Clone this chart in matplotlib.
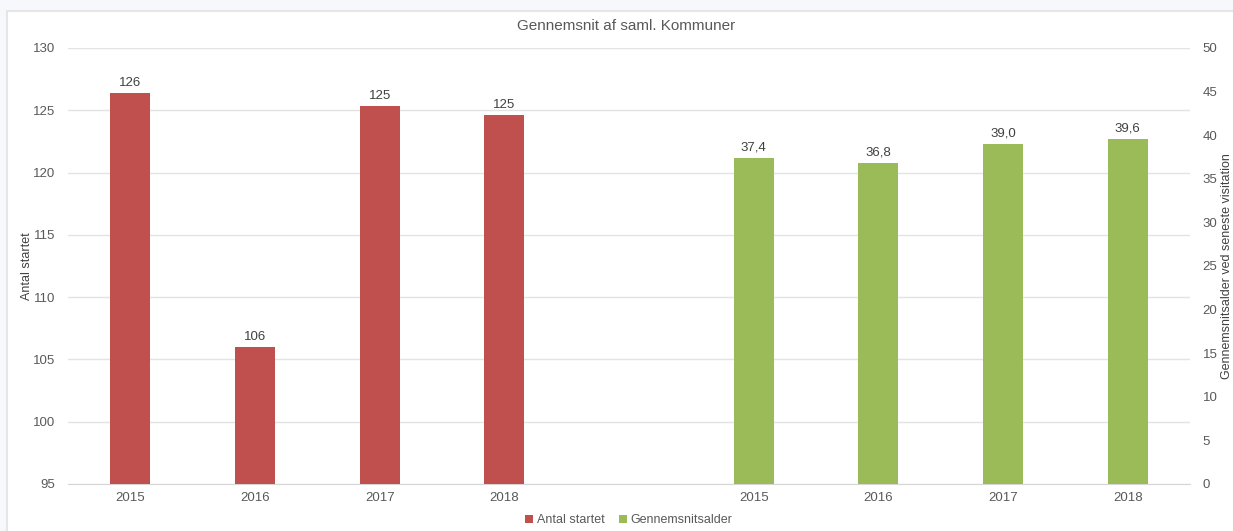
import matplotlib.pyplot as plt
from matplotlib.patches import Rectangle

plt.rcParams['font.family'] = ['Liberation Sans', 'DejaVu Sans']

# data
years = ["2015", "2016", "2017", "2018"]
antal_startet = [126.4, 106.0, 125.35, 124.6]
antal_labels = ["126", "106", "125", "125"]
gns_alder = [37.4, 36.8, 39.0, 39.6]
alder_labels = ["37,4", "36,8", "39,0", "39,6"]

red = "#c0504d"
green = "#9bbb59"
txt = "#595959"
lbl = "#404040"
grid = "#e3e3e3"

fig = plt.figure(figsize=(12.33, 5.31), dpi=100)
fig.patch.set_facecolor("#f6f8fc")
panel = Rectangle((7 / 1233, -0.01), 1.0, 1.01 - 11 / 531, transform=fig.transFigure,
                  facecolor="white", edgecolor="#e4e6ea", linewidth=1.5, zorder=-10)
fig.add_artist(panel)

ax1 = fig.add_axes([68 / 1233, 1 - 484 / 531, (1190 - 68) / 1233, (484 - 48) / 531])
ax1.set_facecolor("none")
ax2 = ax1.twinx()
ax2.set_facecolor("none")

pos_red = [0, 1, 2, 3]
pos_green = [5, 6, 7, 8]
w = 0.32

b1 = ax1.bar(pos_red, antal_startet, width=w, color=red, label="Antal startet", zorder=3)
b2 = ax2.bar(pos_green, gns_alder, width=w, color=green, label="Gennemsnitsalder", zorder=3)

ax1.set_ylim(95, 130)
ax2.set_ylim(0, 50)
ax1.set_yticks(range(95, 131, 5))
ax2.set_yticks(range(0, 51, 5))
ax1.set_xlim(-0.5, 8.5)
ax1.set_xticks(pos_red + pos_green)
ax1.set_xticklabels(years + years)

for a in (ax1, ax2):
    for s in a.spines.values():
        s.set_visible(False)
    a.tick_params(length=0, labelsize=9.5, colors=txt, pad=9)
ax1.spines["bottom"].set_visible(True)
ax1.spines["bottom"].set_color("#d6d6d6")
ax1.tick_params(axis="x", pad=6)

ax1.yaxis.grid(True, color=grid, linewidth=1, zorder=0)
ax1.set_axisbelow(True)

for b, lab in zip(b1, antal_labels):
    ax1.annotate(lab, (b.get_x() + b.get_width() / 2, b.get_height()), xytext=(0, 3),
                 textcoords="offset points", ha="center", va="bottom", fontsize=9.5, color=lbl)
for b, lab in zip(b2, alder_labels):
    ax2.annotate(lab, (b.get_x() + b.get_width() / 2, b.get_height()), xytext=(0, 3),
                 textcoords="offset points", ha="center", va="bottom", fontsize=9.5, color=lbl)

ax1.set_ylabel("Antal startet", fontsize=9, color=lbl, va="center")
ax2.set_ylabel("Gennemsnitsalder ved seneste visitation", fontsize=9, color=lbl, va="center")
ax1.yaxis.set_label_coords((27 - 68) / 1122, 0.5)
ax2.yaxis.set_label_coords((1227 - 68) / 1122, 0.5)

fig.text(0.508, 1 - 26 / 531, "Gennemsnit af saml. Kommuner", ha="center", va="center",
         fontsize=11, color=txt)

fig.legend([b1, b2], ["Antal startet", "Gennemsnitsalder"], loc="center",
           bbox_to_anchor=(0.51, 1 - 520 / 531), ncol=2, frameon=False, fontsize=9,
           handlelength=0.6, handleheight=0.6, handletextpad=0.3, columnspacing=1.2,
           labelcolor=txt)

fig.savefig("out.png", dpi=100, facecolor=fig.get_facecolor())
